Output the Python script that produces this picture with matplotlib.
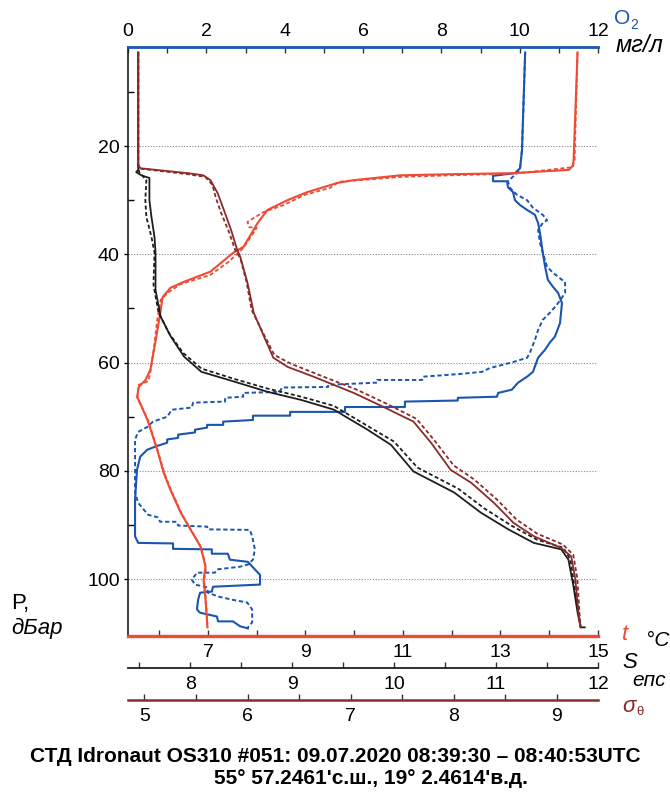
import matplotlib
matplotlib.use('Agg')
import matplotlib.pyplot as plt
from matplotlib.ticker import MultipleLocator, FixedLocator

plt.rcParams['font.family'] = ['Liberation Sans', 'DejaVu Sans']

# --- temperature, deg C (solid and dashed cast) ---
t1 = [14.58, 14.50, 14.48, 14.40, 13.27, 11.98, 10.95, 9.99, 9.66, 9.04, 8.63, 8.22,
      8.02, 7.73, 7.52, 7.05, 6.50, 6.23, 6.07, 6.01, 5.92, 5.82, 5.72, 5.58, 5.55,
      5.76, 5.96, 6.09, 6.23, 6.44, 6.64, 6.85, 6.95, 6.91, 6.95, 6.99]
p_t1 = [2.7, 22.6, 23.7, 24.4, 25.0, 25.2, 25.4, 26.3, 26.8, 28.5, 30.0, 31.8,
        34.2, 38.6, 39.7, 43.2, 45.1, 46.2, 47.9, 51.5, 56.3, 61.3, 63.2, 64.5, 66.3,
        70.6, 76.1, 80.3, 83.5, 87.7, 90.8, 94.0, 97.7, 100.1, 103.8, 108.9]
t2 = [14.58, 14.52, 14.48, 13.27, 11.98, 10.95, 9.68, 9.51, 8.99, 8.55, 8.14, 7.81,
      7.85, 8.0, 7.73, 7.42, 7.05, 6.44, 6.19, 6.03, 5.96, 5.90, 5.82, 5.78, 5.58,
      5.55, 5.78, 5.97, 6.11, 6.25, 6.46, 6.66, 6.86, 6.96, 6.92, 6.96, 6.99]
p_t2 = [2.7, 22.6, 23.9, 25.1, 25.4, 25.7, 26.6, 27.7, 29.0, 30.9, 32.2, 34.0,
        35.0, 35.1, 38.8, 41.4, 43.8, 45.5, 47.0, 48.4, 52.1, 56.7, 61.7, 63.4, 64.1,
        66.5, 70.8, 76.3, 80.5, 83.7, 87.9, 91.0, 94.2, 97.9, 100.3, 104.0, 108.8]

# --- salinity ---
s1 = [7.49, 7.49, 7.49, 7.47, 7.52, 7.60, 7.60, 7.62, 7.65, 7.66, 7.66, 7.71, 7.81,
      7.94, 8.11, 8.43, 8.76, 9.09, 9.41, 9.74, 9.97, 10.19, 10.59, 10.85, 11.12,
      11.37, 11.64, 11.71, 11.76, 11.80, 11.83, 11.87]
p_s1 = [2.7, 23.5, 24.4, 24.8, 25.4, 25.9, 30.0, 33.1, 36.8, 39.7, 46.6, 51.5, 55.2,
        58.9, 61.7, 63.5, 65.4, 66.9, 68.7, 72.4, 75.2, 80.1, 84.0, 87.7, 90.8,
        93.3, 94.5, 96.4, 101.4, 106.2, 108.9, 108.9]
s2 = [7.49, 7.49, 7.50, 7.57, 7.56, 7.57, 7.62, 7.65, 7.64, 7.69, 7.79, 7.93, 8.11,
      8.43, 8.76, 9.09, 9.41, 9.74, 10.0, 10.23, 10.63, 10.89, 11.15, 11.40, 11.66,
      11.73, 11.77, 11.81, 11.83]
p_s2 = [2.7, 24.1, 24.8, 26.3, 30.0, 33.1, 36.8, 39.7, 45.6, 50.8, 54.5, 58.2, 61.1,
        63.0, 64.8, 66.3, 68.0, 71.7, 74.6, 79.4, 83.3, 87.0, 90.1, 92.7, 94.2,
        96.4, 101.4, 106.2, 108.7]

# --- potential density sigma-theta ---
g1 = [4.94, 4.94, 4.96, 5.42, 5.57, 5.64, 5.71, 5.77, 5.84, 5.90, 5.93, 6.00, 6.06,
      6.16, 6.25, 6.39, 6.64, 7.03, 7.32, 7.61, 7.78, 7.97, 8.17, 8.39, 8.58, 8.78,
      9.04, 9.14, 9.18, 9.21, 9.23]
p_g1 = [2.7, 23.5, 24.1, 25.0, 25.4, 26.3, 28.7, 31.8, 35.5, 39.2, 40.5, 45.3, 50.8,
        55.2, 59.1, 60.8, 62.6, 65.6, 68.2, 70.9, 74.8, 79.8, 82.2, 85.9, 89.6, 92.1,
        94.2, 95.8, 100.0, 106.2, 108.9]
g2 = [4.94, 4.94, 4.97, 5.42, 5.59, 5.66, 5.69, 5.74, 5.82, 5.88, 5.93, 5.99, 6.04,
      6.15, 6.26, 6.42, 6.67, 7.06, 7.35, 7.64, 7.81, 8.0, 8.2, 8.42, 8.61, 8.81,
      9.06, 9.16, 9.20, 9.22, 9.23]
p_g2 = [2.7, 23.7, 24.2, 25.2, 25.7, 27.2, 29.4, 32.2, 35.9, 39.2, 40.7, 45.1, 50.3,
        54.5, 58.6, 60.2, 62.1, 65.0, 67.6, 70.4, 74.3, 79.0, 81.6, 85.3, 89.0, 91.6,
        93.6, 95.5, 100.0, 106.2, 108.7]

# --- dissolved oxygen, mg/l ---
o1 = [10.14, 10.06, 10.01, 9.88, 9.32, 9.32, 9.68, 9.70, 9.83, 9.88, 10.01, 10.19,
      10.39, 10.47, 10.52, 10.59, 10.65, 10.72, 10.85, 10.98, 11.08, 11.03, 10.90,
      10.77, 10.65, 10.47, 10.34, 10.19, 9.96, 9.80, 9.45, 9.42, 8.42, 8.42, 7.07,
      7.07, 5.54, 5.54, 4.14, 4.14, 3.19, 3.19, 2.43, 2.43, 2.02, 2.02, 1.71, 1.71,
      1.28, 1.28, 1.00, 1.00, 0.74, 0.49, 0.31, 0.23, 0.18, 0.18, 0.26, 1.15, 1.15,
      2.14, 2.14, 2.55, 2.60, 3.06, 3.24, 3.37, 3.37, 2.17, 2.14, 1.84, 1.79, 1.76,
      1.84, 2.27, 2.30, 2.68, 2.86, 3.06]
p_o1 = [2.7, 20.7, 24.1, 25.0, 25.5, 26.5, 26.5, 27.6, 28.5, 30.0, 30.9, 31.8,
        32.7, 34.2, 36.1, 39.7, 42.3, 44.7, 46.0, 47.1, 49.0, 52.7, 55.2,
        56.3, 57.6, 59.1, 61.7, 62.6, 63.7, 65.0, 65.6, 66.3, 66.5, 67.0, 67.2,
        68.2, 68.2, 69.1, 69.1, 69.8, 69.8, 70.6, 70.9, 71.5, 71.5, 72.0, 72.4, 72.9,
        73.3, 73.9, 74.2, 74.8, 75.4, 76.1, 77.4, 79.8, 85.3, 92.1, 93.3, 93.4, 94.4,
        94.5, 95.3, 95.3, 96.4, 96.8, 98.2, 99.2, 101.0, 101.4, 102.3, 102.5, 103.8, 105.6,
        106.2, 106.9, 107.8, 107.8, 108.7, 109.1]
o2 = [10.14, 10.06, 10.01, 9.96, 9.70, 9.75, 9.93, 10.19, 10.34, 10.59, 10.70, 10.59,
      10.47, 10.52, 10.59, 10.70, 10.85, 11.08, 11.16, 11.16, 11.08, 10.95, 10.77,
      10.59, 10.47, 10.39, 10.26, 10.19, 9.83, 9.57, 9.24, 9.04, 8.48, 7.53, 7.51,
      6.36, 6.36, 5.11, 5.11, 3.93, 3.88, 2.94, 2.94, 2.48, 2.48, 1.66, 1.63, 1.12,
      1.00, 0.64, 0.49, 0.26, 0.18, 0.18, 0.26, 0.51, 0.77, 0.82, 1.25, 1.28, 2.02,
      2.04, 3.11, 3.17, 3.24, 3.19, 3.06, 2.86, 2.27, 2.22, 1.76, 1.63, 1.71, 2.02,
      2.04, 2.30, 2.66, 3.04, 3.17, 3.17, 3.04]
p_o2 = [2.7, 20.7, 24.1, 24.8, 26.5, 27.7, 29.0, 30.0, 31.4, 32.7, 33.7, 34.2,
        35.5, 37.9, 39.7, 42.3, 43.4, 44.7, 45.1, 47.1, 48.0, 49.3, 50.8,
        52.1, 54.0, 55.8, 58.2, 59.1, 59.9, 60.4, 61.0, 61.7, 62.1, 62.6, 63.2,
        63.2, 63.7, 64.1, 64.5, 64.6, 65.4, 65.6, 66.3, 66.5, 67.2, 67.4, 68.3, 68.7,
        70.0, 70.9, 71.9, 72.8, 74.2, 84.0, 85.9, 88.1, 88.6, 89.4, 89.4, 90.1, 90.3,
        90.8, 90.9, 92.1, 94.5, 96.4, 97.3, 97.7, 98.2, 98.8, 98.8, 100.1, 101.0, 101.5,
        102.5, 103.2, 103.8, 104.3, 105.6, 108.0, 109.1]

p_ticks = [20, 40, 60, 80, 100]

red = '#ef4a33'
blue = '#1a55b0'
dred = '#8a2b2b'
black = '#1e1e1e'
dash = (0, (2.2, 1.4))

fig = plt.figure(figsize=(6.7, 7.98), dpi=100)
ax = fig.add_axes([128 / 670, 1 - 636 / 798, 470 / 670, 589 / 798])
ax_t = ax.twiny()
ax_s = ax.twiny()
ax_g = ax.twiny()

ax.plot(o2, p_o2, color=blue, lw=1.4, ls=dash)
ax.plot(o1, p_o1, color=blue, lw=1.5)
ax_g.plot(g2, p_g2, color=dred, lw=1.3, ls=dash)
ax_g.plot(g1, p_g1, color=dred, lw=1.3)
ax_s.plot(s2, p_s2, color=black, lw=1.3, ls=dash)
ax_s.plot(s1, p_s1, color=black, lw=1.3)
ax_t.plot(t2, p_t2, color=red, lw=1.3, ls=dash)
ax_t.plot(t1, p_t1, color=red, lw=1.5)

ax.set_ylim(110.5, 1.7)
ax.set_xlim(0, 12)
ax_t.set_xlim(5.36, 15)
ax_s.set_xlim(7.39, 12)
ax_g.set_xlim(4.84, 9.40)

# twins: only the bottom line of each
for a in (ax_t, ax_s, ax_g):
    for side in ('top', 'left', 'right'):
        a.spines[side].set_visible(False)
    a.xaxis.set_ticks_position('bottom')
    a.xaxis.set_label_position('bottom')
    a.tick_params(axis='x', which='both', direction='in', length=4, width=1,
                  color='#333333', labelsize=14, pad=6)
ax_t.spines['bottom'].set_color(red)
ax_t.spines['bottom'].set_linewidth(2.4)
ax_s.spines['bottom'].set_color(black)
ax_s.spines['bottom'].set_linewidth(1.3)
ax_s.spines['bottom'].set_position(('outward', 23))
ax_g.spines['bottom'].set_color(dred)
ax_g.spines['bottom'].set_linewidth(1.8)
ax_g.spines['bottom'].set_position(('outward', 46))

ax_t.xaxis.set_major_locator(FixedLocator([7, 9, 11, 13, 15]))
ax_t.xaxis.set_minor_locator(FixedLocator([6, 8, 10, 12, 14]))
ax_s.xaxis.set_major_locator(MultipleLocator(1))
ax_s.xaxis.set_minor_locator(MultipleLocator(0.5))
ax_g.xaxis.set_major_locator(MultipleLocator(1))
ax_g.xaxis.set_minor_locator(MultipleLocator(0.5))

# host axes: O2 on top, pressure on the left
ax.xaxis.set_ticks_position('top')
ax.xaxis.set_label_position('top')
ax.spines['bottom'].set_visible(False)
ax.spines['right'].set_visible(False)
ax.spines['top'].set_color(blue)
ax.spines['top'].set_linewidth(2)
ax.spines['left'].set_color(black)
ax.spines['left'].set_linewidth(1.2)
ax.set_xticks(range(0, 13, 2))
ax.xaxis.set_minor_locator(MultipleLocator(1))
ax.tick_params(axis='x', which='both', direction='in', length=4, width=1,
               color='#333333', labelsize=14, pad=5)
ax.set_yticks(p_ticks)
ax.yaxis.set_minor_locator(FixedLocator([10, 30, 50, 70, 90]))
ax.tick_params(axis='y', which='major', direction='out', length=3, width=1,
               labelsize=14, pad=3)
ax.tick_params(axis='y', which='minor', direction='in', length=4, width=1)
ax.grid(axis='y', which='major', color='#888888', lw=0.8, ls=(0, (1, 1.5)))
ax.set_zorder(0)


def ftext(x, y, s, **kw):
    fig.text(x / 670, 1 - y / 798, s, va='center', ha=kw.pop('ha', 'left'), **kw)


ftext(614, 19, 'O', color=blue, fontsize=15)
ftext(630, 25, '2', color=blue, fontsize=10)
ftext(616, 45, 'мг/л', style='italic', fontsize=17)
ftext(622, 634, 't', color=red, style='italic', fontsize=16)
ftext(646, 641, '°C', style='italic', fontsize=15)
ftext(622, 663, 'S', style='italic', fontsize=16)
ftext(632, 681, 'епс', style='italic', fontsize=15)
ftext(622, 706, 'σ', color=dred, style='italic', fontsize=16)
ftext(636, 712, 'θ', color=dred, fontsize=9.5)
ftext(11, 603, 'P,', fontsize=16)
ftext(11, 628, 'дБар', style='italic', fontsize=16)

ftext(335, 757, 'СТД Idronaut OS310 #051: 09.07.2020 08:39:30 – 08:40:53UTC',
      fontsize=15, fontweight='bold', ha='center')
ftext(371, 779, "55° 57.2461'с.ш., 19° 2.4614'в.д.", fontsize=15,
      fontweight='bold', ha='center')

fig.savefig('out.png', dpi=100)
